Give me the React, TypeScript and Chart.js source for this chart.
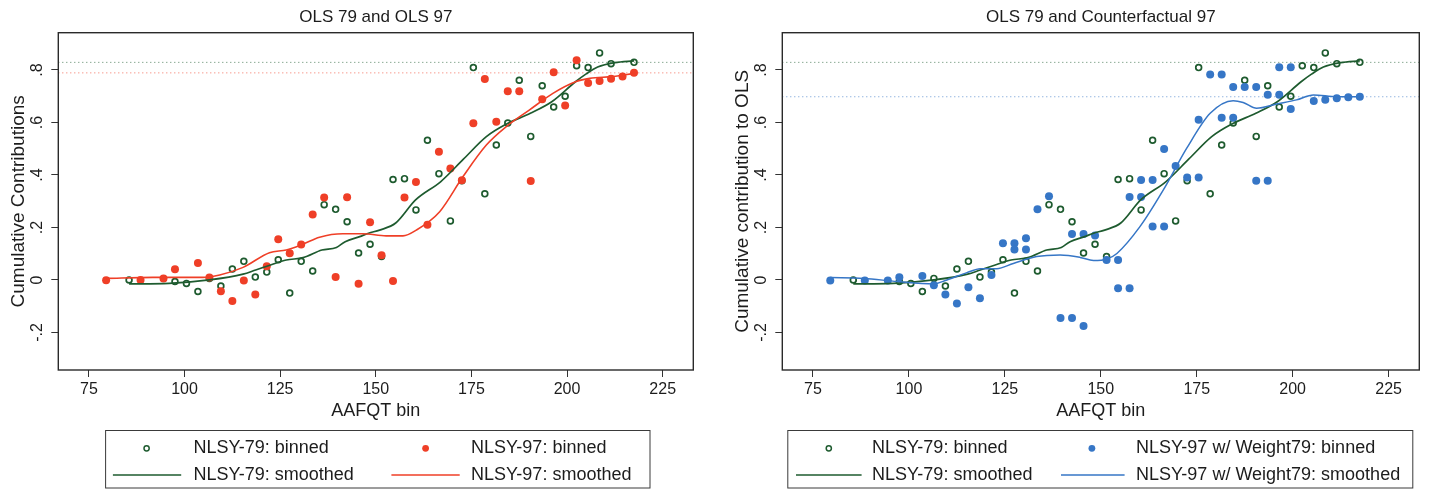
import React, { useEffect, useRef } from 'react';
import { Chart, registerables } from 'chart.js';

Chart.register(...registerables);

const FONT = '"Liberation Sans", Arial, Helvetica, sans-serif';

// ---- axes ----
const xTicks = [75, 100, 125, 150, 175, 200, 225];
const xTickLabels = ['75', '100', '125', '150', '175', '200', '225'];
const yTicks = [-0.2, 0, 0.2, 0.4, 0.6, 0.8];
const yTickLabels = ['-.2', '0', '.2', '.4', '.6', '.8'];
const xRange = [67, 233];
const yRange = [-0.343, 0.942];

// ---- NLSY-79 binned ----
const bin79X = [85.5, 97.5, 100.5, 103.5, 106.5, 109.5, 112.5, 115.5, 118.5, 121.5, 124.5, 127.5, 130.5, 133.5, 136.5, 139.5, 142.5, 145.5, 148.5, 151.5, 154.5, 157.5, 160.5, 163.5, 166.5, 169.5, 172.5, 175.5, 178.5, 181.5, 184.5, 187.5, 190.5, 193.5, 196.5, 199.5, 202.5, 205.5, 208.5, 211.5, 217.5];
const bin79Y = [0.0, -0.006, -0.013, -0.044, 0.006, -0.023, 0.042, 0.071, 0.011, 0.030, 0.077, -0.050, 0.071, 0.034, 0.287, 0.269, 0.222, 0.103, 0.136, 0.089, 0.383, 0.386, 0.267, 0.532, 0.405, 0.225, 0.378, 0.809, 0.328, 0.514, 0.598, 0.761, 0.547, 0.740, 0.659, 0.700, 0.816, 0.809, 0.865, 0.824, 0.829];

// ---- NLSY-97 binned ----
const bin97X = [79.5, 88.5, 94.5, 97.5, 103.5, 106.5, 109.5, 112.5, 115.5, 118.5, 121.5, 124.5, 127.5, 130.5, 133.5, 136.5, 139.5, 142.5, 145.5, 148.5, 151.5, 154.5, 157.5, 160.5, 163.5, 166.5, 169.5, 172.5, 175.5, 178.5, 181.5, 184.5, 187.5, 190.5, 193.5, 196.5, 199.5, 202.5, 205.5, 208.5, 211.5, 214.5, 217.5];
const bin97Y = [-0.001, 0.0, 0.006, 0.041, 0.065, 0.009, -0.043, -0.08, -0.002, -0.055, 0.052, 0.155, 0.102, 0.135, 0.249, 0.314, 0.011, 0.315, -0.014, 0.22, 0.094, -0.004, 0.314, 0.373, 0.21, 0.488, 0.425, 0.38, 0.597, 0.766, 0.603, 0.719, 0.719, 0.377, 0.688, 0.791, 0.665, 0.837, 0.75, 0.758, 0.767, 0.775, 0.789];

// ---- NLSY-97 w/ Weight79 binned ----
const binCfX = [79.5, 88.5, 94.5, 97.5, 103.5, 106.5, 109.5, 112.5, 115.5, 118.5, 121.5, 124.5, 127.5, 127.5, 130.5, 130.5, 133.5, 136.5, 139.5, 142.5, 142.5, 145.5, 145.5, 148.5, 151.5, 154.5, 154.5, 157.5, 157.5, 160.5, 160.5, 163.5, 163.5, 166.5, 166.5, 169.5, 172.5, 175.5, 175.5, 178.5, 181.5, 181.5, 184.5, 184.5, 187.5, 190.5, 190.5, 193.5, 193.5, 196.5, 196.5, 199.5, 199.5, 205.5, 208.5, 211.5, 214.5, 217.5];
const binCfY = [-0.002, -0.002, -0.002, 0.01, 0.015, -0.02, -0.055, -0.09, -0.028, -0.07, 0.019, 0.14, 0.14, 0.116, 0.159, 0.116, 0.269, 0.319, -0.145, -0.145, 0.175, -0.175, 0.175, 0.169, 0.076, 0.076, -0.032, -0.032, 0.316, 0.316, 0.381, 0.381, 0.204, 0.204, 0.499, 0.434, 0.39, 0.39, 0.61, 0.783, 0.783, 0.618, 0.618, 0.735, 0.735, 0.735, 0.378, 0.378, 0.706, 0.706, 0.81, 0.81, 0.651, 0.682, 0.687, 0.692, 0.696, 0.698];

// ---- smoothed curves ----
const smooth79X = [85.5, 96, 106.5, 115.3, 118.6, 122.3, 126.6, 131, 135.9, 139.7, 142, 145.8, 148.1, 151, 155.2, 160.4, 167, 172.9, 178.9, 184.3, 190.4, 196, 202.2, 205, 208, 212.5, 217.5];
const smooth79Y = [-0.015, -0.013, 0.0, 0.022, 0.038, 0.056, 0.076, 0.085, 0.114, 0.124, 0.146, 0.165, 0.178, 0.19, 0.217, 0.305, 0.375, 0.46, 0.546, 0.595, 0.635, 0.679, 0.755, 0.785, 0.811, 0.828, 0.835];

const smooth97X = [79.5, 91.7, 104.8, 109.2, 115.3, 122.2, 126.6, 130.9, 135.3, 141.4, 146.6, 152.7, 157.1, 160.6, 166.7, 172.8, 178.9, 184.1, 190.2, 196.3, 202.4, 205.9, 212, 217.5];
const smooth97Y = [0.006, 0.01, 0.01, 0.019, 0.048, 0.104, 0.114, 0.136, 0.163, 0.176, 0.176, 0.168, 0.168, 0.19, 0.26, 0.394, 0.514, 0.584, 0.648, 0.711, 0.756, 0.768, 0.775, 0.787];

const smoothCfX = [79.5, 88.2, 96.9, 106.4, 109.9, 115.1, 118.6, 122.9, 127.2, 133.3, 139.4, 144.6, 148.1, 151.6, 154.2, 160.2, 166.3, 172.4, 178.5, 184.5, 187.1, 190.6, 195.8, 201, 205.4, 211.5, 217.5];
const smoothCfY = [0.009, 0.006, -0.006, -0.015, 0.0, 0.028, 0.043, 0.043, 0.063, 0.089, 0.095, 0.086, 0.074, 0.08, 0.101, 0.203, 0.343, 0.502, 0.635, 0.683, 0.676, 0.654, 0.67, 0.686, 0.705, 0.698, 0.698];

// ---- text ----
const panelTitles = ['OLS 79 and OLS 97', 'OLS 79 and Counterfactual 97'];
const yTitles = ['Cumulative Contributions', 'Cumulative contribution to OLS'];
const xTitle = 'AAFQT bin';
const legendLabelsLeft = ['NLSY-79: binned', 'NLSY-97: binned', 'NLSY-79: smoothed', 'NLSY-97: smoothed'];
const legendLabelsRight = ['NLSY-79: binned', 'NLSY-97 w/ Weight79: binned', 'NLSY-79: smoothed', 'NLSY-97 w/ Weight79: smoothed'];

// ---- colours ----
const C79 = '#1e5b2f';
const C97 = '#ef3f27';
const CCF = '#3676c6';
const TEXT = '#1c1c1c';

const last = (a: number[]) => a[a.length - 1];
const pts = (xs: number[], ys: number[]) => xs.map((x, i) => ({ x, y: ys[i] }));

function scatterDs(label: string, xs: number[], ys: number[], color: string, hollow: boolean, order: number) {
  return {
    type: 'scatter',
    label,
    data: pts(xs, ys),
    order,
    showLine: false,
    pointStyle: 'circle',
    pointRadius: hollow ? 2.9 : 4,
    pointHoverRadius: hollow ? 2.9 : 4,
    pointBorderWidth: hollow ? 1.7 : 0,
    pointBackgroundColor: hollow ? 'rgba(0,0,0,0)' : color,
    pointBorderColor: color,
  };
}

function lineDs(label: string, xs: number[], ys: number[], color: string, width: number, order: number) {
  return {
    type: 'line',
    label,
    data: pts(xs, ys),
    order,
    borderColor: color,
    borderWidth: width,
    pointRadius: 0,
    pointHoverRadius: 0,
    cubicInterpolationMode: 'monotone',
    fill: false,
  };
}

function refDs(level: number, color: string, order: number) {
  return {
    type: 'line',
    label: 'ref',
    data: [{ x: xRange[0], y: level }, { x: xRange[1], y: level }],
    order,
    borderColor: color,
    borderWidth: 1,
    borderDash: [1, 3],
    pointRadius: 0,
    pointHoverRadius: 0,
    fill: false,
  };
}

type LegendItem = { label: string; kind: 'hollow' | 'dot' | 'line'; color: string };
type Col = { sym: number; l0: number; l1: number; text: number };
type PanelSpec = {
  width: number;
  padLeft: number;
  padRight: number;
  title: string;
  yTitle: string;
  datasets: any[];
  items: LegendItem[];
  box: number[];
  rows: number[];
  cols: Col[];
};

function decorPlugin(spec: PanelSpec) {
  return {
    id: 'decor',
    afterDraw(chart: any) {
      const { ctx, chartArea: a } = chart;
      ctx.save();
      ctx.strokeStyle = '#2a2a2a';
      ctx.lineWidth = 1.4;
      ctx.strokeRect(a.left, a.top, a.right - a.left, a.bottom - a.top);

      ctx.fillStyle = TEXT;
      ctx.font = `17px ${FONT}`;
      ctx.textAlign = 'center';
      ctx.textBaseline = 'middle';
      ctx.fillText(spec.title, (a.left + a.right) / 2, 17);

      const b = spec.box;
      ctx.strokeStyle = '#3a3a3a';
      ctx.lineWidth = 1;
      ctx.strokeRect(b[0], b[1], b[2] - b[0], b[3] - b[1]);
      ctx.font = `18px ${FONT}`;
      ctx.textAlign = 'left';
      spec.items.forEach((it, i) => {
        const col = spec.cols[i % 2];
        const y = spec.rows[Math.floor(i / 2)];
        if (it.kind === 'line') {
          ctx.strokeStyle = it.color;
          ctx.lineWidth = 1.6;
          ctx.beginPath();
          ctx.moveTo(col.l0, y);
          ctx.lineTo(col.l1, y);
          ctx.stroke();
        } else if (it.kind === 'hollow') {
          ctx.strokeStyle = it.color;
          ctx.lineWidth = 1.5;
          ctx.beginPath();
          ctx.arc(col.sym, y, 2.6, 0, Math.PI * 2);
          ctx.stroke();
        } else {
          ctx.fillStyle = it.color;
          ctx.beginPath();
          ctx.arc(col.sym, y, 3.4, 0, Math.PI * 2);
          ctx.fill();
        }
        ctx.fillStyle = TEXT;
        ctx.fillText(it.label, col.text, y);
      });
      ctx.restore();
    },
  };
}

function buildConfig(spec: PanelSpec): any {
  return {
    type: 'scatter',
    data: { datasets: spec.datasets },
    options: {
      animation: false,
      responsive: false,
      events: [],
      layout: { padding: { left: spec.padLeft, right: spec.padRight, top: 32.7, bottom: 66 } },
      plugins: { legend: { display: false }, tooltip: { enabled: false }, title: { display: false } },
      scales: {
        x: {
          type: 'linear',
          min: xRange[0],
          max: xRange[1],
          afterBuildTicks: (s: any) => { s.ticks = xTicks.map((v) => ({ value: v })); },
          afterFit: (s: any) => { s.height = 55; },
          ticks: {
            callback: (_v: any, i: number) => xTickLabels[i],
            font: { size: 16, family: FONT },
            color: TEXT,
            padding: 3.3,
            maxRotation: 0,
            autoSkip: false,
          },
          grid: { display: true, drawOnChartArea: false, drawTicks: true, tickLength: 7, color: '#333', tickColor: '#333', lineWidth: 1 },
          border: { display: false },
          title: { display: true, text: xTitle, font: { size: 18, family: FONT }, color: TEXT, padding: { top: 0, bottom: 3.2 } },
        },
        y: {
          type: 'linear',
          min: yRange[0],
          max: yRange[1],
          afterBuildTicks: (s: any) => { s.ticks = yTicks.map((v) => ({ value: v })); },
          afterFit: (s: any) => { s.width = 58.3; },
          ticks: {
            callback: (_v: any, i: number) => yTickLabels[i],
            font: { size: 16, family: FONT },
            color: TEXT,
            padding: 4,
            minRotation: 90,
            maxRotation: 90,
            crossAlign: 'center',
            autoSkip: false,
          },
          grid: { display: true, drawOnChartArea: false, drawTicks: true, tickLength: 7, color: '#333', tickColor: '#333', lineWidth: 1 },
          border: { display: false },
          title: { display: true, text: spec.yTitle, font: { size: 19, family: FONT }, color: TEXT, padding: { top: 7.5, bottom: 0 } },
        },
      },
    },
    plugins: [decorPlugin(spec)],
  };
}

const leftSpec: PanelSpec = {
  width: 714,
  padLeft: 0,
  padRight: 20.7,
  title: panelTitles[0],
  yTitle: yTitles[0],
  datasets: [
    refDs(last(bin79Y), 'rgba(30,91,47,0.75)', 10),
    refDs(last(bin97Y), 'rgba(239,63,39,0.75)', 9),
    scatterDs(legendLabelsLeft[0], bin79X, bin79Y, C79, true, 6),
    scatterDs(legendLabelsLeft[1], bin97X, bin97Y, C97, false, 5),
    lineDs(legendLabelsLeft[2], smooth79X, smooth79Y, C79, 1.7, 4),
    lineDs(legendLabelsLeft[3], smooth97X, smooth97Y, C97, 1.6, 3),
  ],
  items: [
    { label: legendLabelsLeft[0], kind: 'hollow', color: C79 },
    { label: legendLabelsLeft[1], kind: 'dot', color: C97 },
    { label: legendLabelsLeft[2], kind: 'line', color: C79 },
    { label: legendLabelsLeft[3], kind: 'line', color: C97 },
  ],
  box: [105.6, 430.5, 650, 488],
  rows: [448.3, 475],
  cols: [
    { sym: 146.6, l0: 112.9, l1: 181.2, text: 193.4 },
    { sym: 425.6, l0: 391.4, l1: 459.7, text: 471 },
  ],
};

const rightSpec: PanelSpec = {
  width: 715,
  padLeft: 10,
  padRight: 9.7,
  title: panelTitles[1],
  yTitle: yTitles[1],
  datasets: [
    refDs(last(bin79Y), 'rgba(30,91,47,0.75)', 10),
    refDs(last(binCfY), 'rgba(54,118,198,0.75)', 9),
    scatterDs(legendLabelsRight[0], bin79X, bin79Y, C79, true, 6),
    scatterDs(legendLabelsRight[1], binCfX, binCfY, CCF, false, 5),
    lineDs(legendLabelsRight[2], smooth79X, smooth79Y, C79, 1.7, 4),
    lineDs(legendLabelsRight[3], smoothCfX, smoothCfY, CCF, 1.5, 3),
  ],
  items: [
    { label: legendLabelsRight[0], kind: 'hollow', color: C79 },
    { label: legendLabelsRight[1], kind: 'dot', color: CCF },
    { label: legendLabelsRight[2], kind: 'line', color: C79 },
    { label: legendLabelsRight[3], kind: 'line', color: CCF },
  ],
  box: [73.8, 430.5, 698.8, 488],
  rows: [448.3, 475],
  cols: [
    { sym: 114.8, l0: 82, l1: 147.6, text: 158 },
    { sym: 377.9, l0: 347, l1: 410.6, text: 422 },
  ],
};

function Panel({ spec, left }: { spec: PanelSpec; left: number }) {
  const ref = useRef<HTMLCanvasElement | null>(null);
  useEffect(() => {
    if (!ref.current) return;
    const chart = new Chart(ref.current, buildConfig(spec));
    return () => chart.destroy();
  }, [spec]);
  return (
    <canvas
      ref={ref}
      width={spec.width}
      height={491}
      style={{ position: 'absolute', left, top: 0, width: spec.width, height: 491, display: 'block' }}
    />
  );
}

export default function App() {
  return (
    <div style={{ position: 'fixed', left: 0, top: 0, width: 1429, height: 491, background: '#fff', overflow: 'hidden' }}>
      <Panel spec={leftSpec} left={0} />
      <Panel spec={rightSpec} left={714} />
    </div>
  );
}
